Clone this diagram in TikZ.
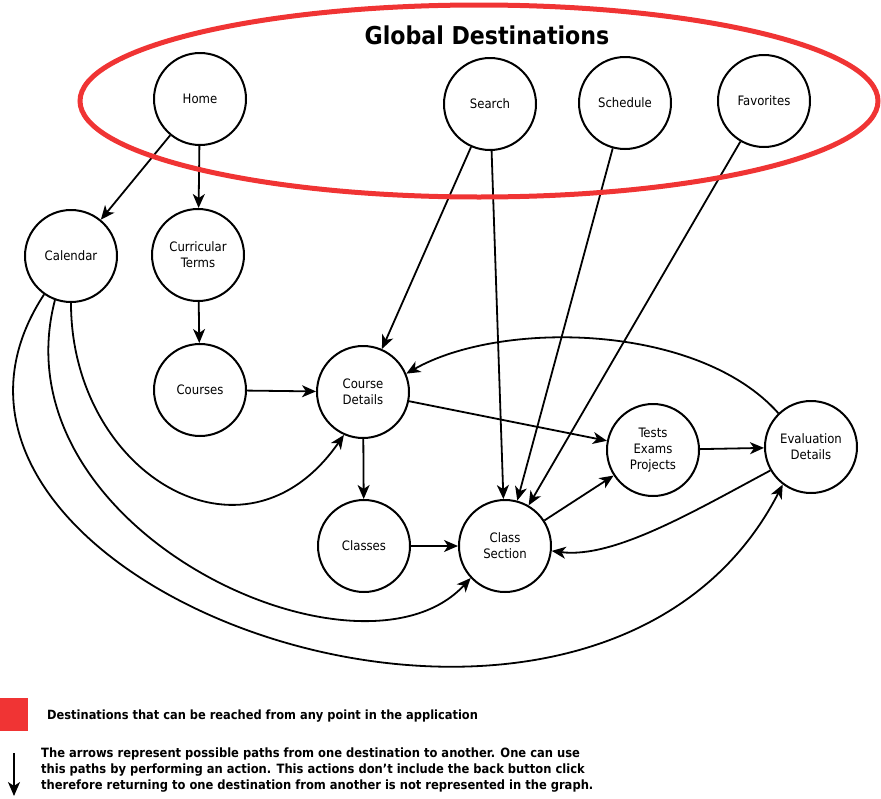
\documentclass[tikz,border=0pt]{standalone}
\usepackage{fontspec}
\setmainfont{DejaVu Sans Condensed}
\usetikzlibrary{arrows.meta}
\definecolor{gd-red}{RGB}{240,52,52}

\begin{document}
\begin{tikzpicture}[x=1pt, y=-1pt, font=\fontsize{13}{16}\selectfont,
  dest/.style={draw, circle, line width=2pt, minimum size=92pt, inner sep=0pt, align=center},
  link/.style={-{Stealth[length=14pt, width=12pt, inset=4pt]}, line width=1.8pt}]
\useasboundingbox (0,0) rectangle (881,798);

\node[dest] (home) at (200,99) {Home};
\node[dest] (search) at (490,104) {Search};
\node[dest] (sched) at (625,103) {Schedule};
\node[dest] (fav) at (764,101) {Favorites};

\node[dest] (cal) at (71,256) {Calendar};
\node[dest] (terms) at (198,255) {Curricular\\Terms};
\node[dest] (courses) at (200,390) {Courses};
\node[dest] (cdet) at (363,392) {Course\\Details};
\node[dest] (classes) at (364,546) {Classes};
\node[dest] (csec) at (505,546) {Class\\Section};
\node[dest] (tests) at (653,450) {Tests\\Exams\\Projects};
\node[dest] (eval) at (811,447) {Evaluation\\Details};

\draw[link] (home) -- (cal);
\draw[link] (home) -- (terms);
\draw[link] (terms) -- (courses);
\draw[link] (courses) -- (cdet);
\draw[link] (search) -- (cdet);
\draw[link] (search) -- (csec);
\draw[link] (sched) -- (csec);
\draw[link] (fav) -- (csec);
\draw[link] (cdet) -- (tests);
\draw[link] (cdet) -- (classes);
\draw[link] (classes) -- (csec);
\draw[link] (csec) -- (tests);
\draw[link] (tests) -- (eval);

% curved paths
\draw[link] (cal.-90) .. controls +(0,170) and +(-100,144) .. (cdet.-114);
\draw[link] (cal.-110) .. controls +(-60,230) and +(-110,120) .. (csec.-137);
\draw[link] (cal.-125) .. controls +(-190,290) and +(-190,370) .. (eval.-127);
\draw[link] (eval.134) .. controls +(-80,-90) and +(95,-54) .. (cdet.23);
\draw[link] (eval.-150) .. controls +(-75,40) and +(62,8) .. (csec.-6);

% global destinations
\draw[gd-red, line width=5pt] (479,101) ellipse [x radius=399, y radius=96];
\node[font=\fontsize{24.6}{28}\selectfont\bfseries] (title) at (487,35) {Global Destinations};

% legend
\fill[gd-red] (0,698) rectangle (28,731);
\node[anchor=west, inner sep=0pt, font=\fontsize{12.7}{16}\selectfont\bfseries] (legred) at (47,716)
  {Destinations that can be reached from any point in the application};
\coordinate (atop) at (14,753);
\coordinate (abot) at (14,796);
\draw[link] (atop) -- (abot);
\node[anchor=north west, align=left, inner sep=0pt, font=\fontsize{12.8}{16}\selectfont\bfseries] (legarr) at (41,748)
  {The arrows represent possible paths from one destination to another. One can use\\
   this paths by performing an action. This actions don't include the back button click\\
   therefore returning to one destination from another is not represented in the graph.};
\end{tikzpicture}
\end{document}
